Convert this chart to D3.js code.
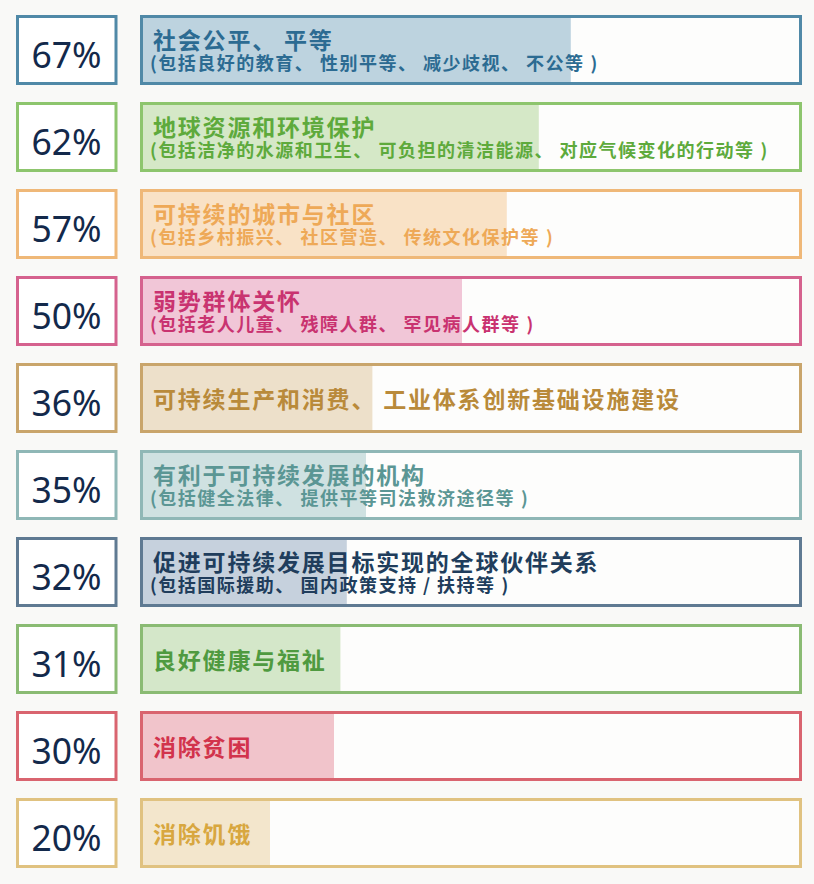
<!DOCTYPE html>
<html>
<head>
<meta charset="utf-8">
<script src="https://cdn.jsdelivr.net/npm/d3@7"></script>
<style>
    html, body { margin:0; padding:0; background:#f9f9f7; }
    svg { display:block; }
</style>
</head>
<body>
<div id="chart"></div>
<script>
// data
const percentages = [67, 62, 57, 50, 36, 35, 32, 31, 30, 20];
const titles = [
    "社会公平、 平等",
    "地球资源和环境保护",
    "可持续的城市与社区",
    "弱势群体关怀",
    "可持续生产和消费、 工业体系创新基础设施建设",
    "有利于可持续发展的机构",
    "促进可持续发展目标实现的全球伙伴关系",
    "良好健康与福祉",
    "消除贫困",
    "消除饥饿"
];
const subtitles = [
    "(包括良好的教育、 性别平等、 减少歧视、 不公等\u2005)",
    "(包括洁净的水源和卫生、 可负担的清洁能源、 对应气候变化的行动等\u2005)",
    "(包括乡村振兴、 社区营造、 传统文化保护等\u2005)",
    "(包括老人儿童、 残障人群、 罕见病人群等\u2005)",
    "",
    "(包括健全法律、 提供平等司法救济途径等\u2005)",
    "(包括国际援助、 国内政策支持 / 扶持等\u2005)",
    "",
    "",
    ""
];

// colours per row
const borderColours = ["#5089a7", "#8dc56d", "#efb878", "#d5628e", "#c9a56b", "#8fb7b6", "#5f7a92", "#8abb73", "#d9646f", "#e0c280"];
const fillColours   = ["#bdd3df", "#d5e8c7", "#f9e2c6", "#f1c6d7", "#ede0ca", "#cfe1e1", "#c6d1dd", "#d4e7c9", "#f1c4cb", "#f3e6cc"];
const textColours   = ["#2c6b92", "#5eaa3c", "#eea957", "#c93370", "#b98a3a", "#5b9694", "#203d5c", "#4f9a40", "#d2334c", "#d8a73f"];

const width = 814;
const height = 884;
const PCT_COLOUR = "#13294b";
const FONT_CJK = "'Noto Sans CJK SC', 'Noto Sans', sans-serif";

const rows = percentages.map((p, i) => ({
    i, value:p, title:titles[i], subtitle:subtitles[i],
    border:borderColours[i], fill:fillColours[i], text:textColours[i]
}));

const y = d3.scaleBand()
    .domain(d3.range(rows.length))
    .range([15, 868])
    .paddingInner(17/87)
    .paddingOuter(0);

const x = d3.scaleLinear()
    .domain([0, 100])
    .range([142, 782]);

const svg = d3.select("#chart").append("svg")
    .attr("width", width)
    .attr("height", height);

svg.append("rect")
    .attr("width", width)
    .attr("height", height)
    .attr("fill", "#f9f9f7");

const rowG = svg.selectAll("g.row").data(rows)
    .enter()
    .append("g")
        .attr("class", "row")
        .attr("transform", d => `translate(0, ${y(d.i)})`);

const bh = y.bandwidth();

//percentage box
rowG.append("rect")
    .attr("class", "pct-box")
    .attr("x", 17.5)
    .attr("y", 1.5)
    .attr("width", 98.5)
    .attr("height", bh - 3)
    .attr("fill", "#ffffff")
    .attr("stroke", d => d.border)
    .attr("stroke-width", 3);

rowG.append("text")
    .attr("class", "pct-label")
    .attr("x", 66.5)
    .attr("y", 52.5)
    .attr("text-anchor", "middle")
    .attr("font-family", "'Noto Sans', 'Open Sans', sans-serif")
    .attr("font-size", 35.5)
    .attr("fill", PCT_COLOUR)
    .text(d => `${d.value}%`);

//bar box
rowG.append("rect")
    .attr("class", "bar-bg")
    .attr("x", 141.5)
    .attr("y", 1.5)
    .attr("width", 659)
    .attr("height", bh - 3)
    .attr("fill", "#fdfdfc");

rowG.append("rect")
    .attr("class", "bar")
    .attr("x", x(0))
    .attr("y", 1.5)
    .attr("width", d => x(d.value) - x(0))
    .attr("height", bh - 3)
    .attr("fill", d => d.fill);

rowG.append("rect")
    .attr("class", "bar-border")
    .attr("x", 141.5)
    .attr("y", 1.5)
    .attr("width", 659)
    .attr("height", bh - 3)
    .attr("fill", "none")
    .attr("stroke", d => d.border)
    .attr("stroke-width", 3);

//titles
rowG.append("text")
    .attr("class", "bar-title")
    .attr("x", 153)
    .attr("y", d => d.subtitle ? 33.5 : 45)
    .attr("font-family", FONT_CJK)
    .attr("font-weight", 700)
    .attr("font-size", 23)
    .attr("letter-spacing", 1.8)
    .attr("fill", d => d.text)
    .text(d => d.title);

rowG.filter(d => d.subtitle)
    .append("text")
    .attr("class", "bar-subtitle")
    .attr("x", 150)
    .attr("y", 55)
    .attr("font-family", FONT_CJK)
    .attr("font-weight", 700)
    .attr("font-size", 18)
    .attr("letter-spacing", 1.5)
    .attr("fill", d => d.text)
    .text(d => d.subtitle);
</script>
</body>
</html>
